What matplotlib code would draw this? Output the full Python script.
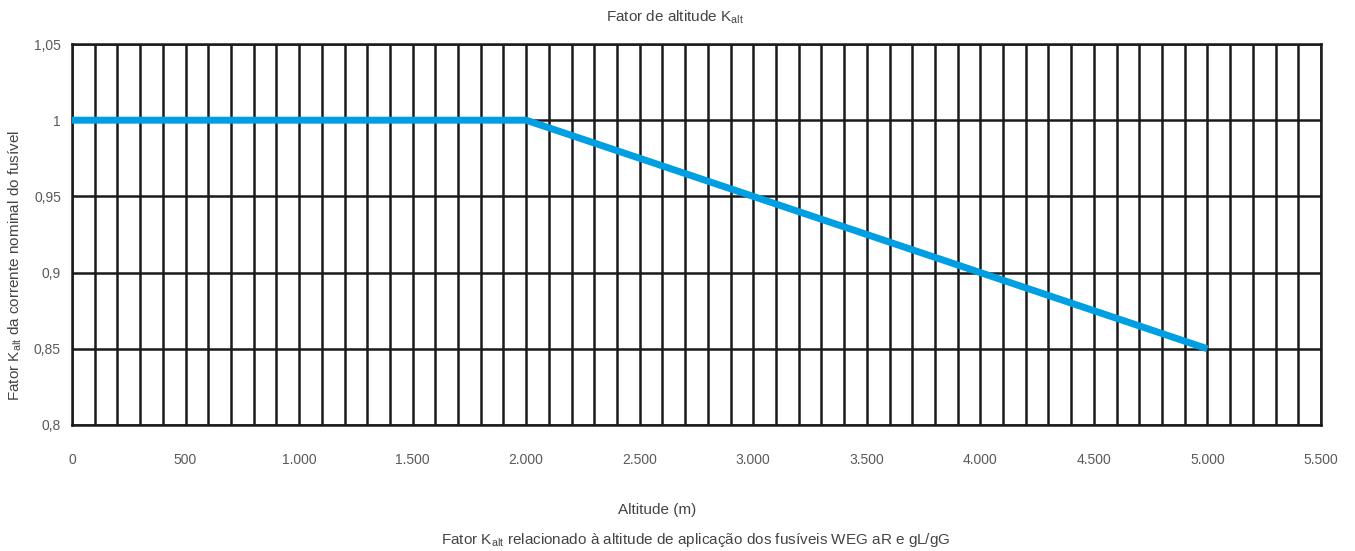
import matplotlib.pyplot as plt
from matplotlib.ticker import MultipleLocator, FuncFormatter

# dados
altitude = [0, 2000, 5000]
kalt = [1.0, 1.0, 0.85]
xticks = [0, 500, 1000, 1500, 2000, 2500, 3000, 3500, 4000, 4500, 5000, 5500]
yticks = [0.8, 0.85, 0.9, 0.95, 1.0, 1.05]

plt.rcParams['font.family'] = ['Liberation Sans', 'DejaVu Sans']
plt.rcParams['mathtext.fontset'] = 'custom'
plt.rcParams['mathtext.rm'] = 'Liberation Sans'
plt.rcParams['mathtext.it'] = 'Liberation Sans'
plt.rcParams['mathtext.default'] = 'regular'

cor_texto = '#444444'

fig = plt.figure(figsize=(13.55, 5.51), dpi=100)
ax = fig.add_axes([72 / 1355, 1 - 425 / 551, (1321 - 72) / 1355, (425 - 44) / 551])

ax.plot(altitude, kalt, color='#009FE3', linewidth=5, solid_capstyle='butt', zorder=5)

ax.set_xlim(0, 5500)
ax.set_ylim(0.8, 1.05)
ax.set_xticks(xticks)
ax.set_yticks(yticks)
ax.xaxis.set_minor_locator(MultipleLocator(100))

def fmt_x(v, pos):
    return f"{int(v):,}".replace(',', '.')

def fmt_y(v, pos):
    s = f"{v:.2f}".rstrip('0').rstrip('.')
    return s.replace('.', ',')

ax.xaxis.set_major_formatter(FuncFormatter(fmt_x))
ax.yaxis.set_major_formatter(FuncFormatter(fmt_y))

ax.grid(axis='x', which='both', color='#1a1a1a', linewidth=1.8)
ax.grid(axis='y', which='major', color='#1a1a1a', linewidth=1.8)
ax.set_axisbelow(True)
for s in ax.spines.values():
    s.set_color('#1a1a1a')
    s.set_linewidth(1.8)

ax.tick_params(axis='both', which='both', length=0, labelsize=10, labelcolor='#5a5a5a')
ax.tick_params(axis='x', pad=20)
ax.tick_params(axis='y', pad=8)

fig.text(675 / 1355, 1 - 17 / 551, r'Fator de altitude K$_{alt}$',
         ha='center', va='center', fontsize=11, color=cor_texto)
fig.text(657 / 1355, 1 - 510 / 551, 'Altitude (m)',
         ha='center', va='center', fontsize=11, color=cor_texto)
fig.text(696 / 1355, 1 - 540 / 551,
         r'Fator K$_{alt}$ relacionado à altitude de aplicação dos fusíveis WEG aR e gL/gG',
         ha='center', va='center', fontsize=11, color=cor_texto)
fig.text(15 / 1355, 1 - 265 / 551, r'Fator K$_{alt}$ da corrente nominal do fusível',
         ha='center', va='center', rotation=90, fontsize=11, color=cor_texto)

fig.savefig('out.png', dpi=100, facecolor='white')
